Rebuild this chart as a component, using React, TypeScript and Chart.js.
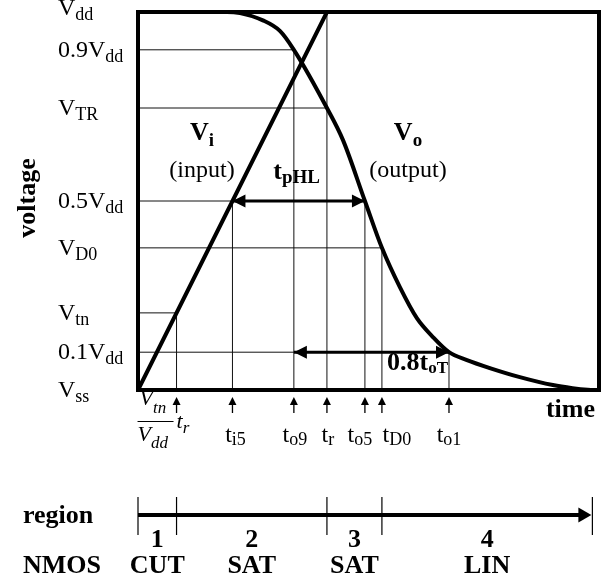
import React, { useEffect, useRef } from 'react';
import { Chart, registerables } from 'chart.js';

Chart.register(...registerables);

// ---------- data ----------
const T_MAX = 2.44;

const levelNames = ['V|dd', '0.9V|dd', 'V|TR', '0.5V|dd', 'V|D0', 'V|tn', '0.1V|dd', 'V|ss'];
const levelValues = [1, 0.9, 0.746, 0.5, 0.376, 0.204, 0.1, 0];

const inputTimes = [0, 1.0, 2.44];
const inputValues = [0, 1, 1];

const outputTimes = [0, 0.47, 0.54, 0.661, 0.751, 0.825, 1.0, 1.085, 1.201, 1.291, 1.386, 1.476, 1.561, 1.646, 1.741, 1.862, 2.021, 2.196, 2.3, 2.38, 2.44];
const outputValues = [1, 1, 0.997, 0.978, 0.95, 0.9, 0.746, 0.661, 0.5, 0.376, 0.272, 0.19, 0.14, 0.1, 0.079, 0.058, 0.034, 0.013, 0.005, 0.001, 0];

const hGuideLevels = [0.9, 0.746, 0.5, 0.376, 0.204, 0.1];
const hGuideEnds = [0.825, 1.0, 1.201, 1.291, 0.204, 1.646];

const markerNames = ['', 't|i5', 't|o9', 't|r', 't|o5', 't|D0', 't|o1'];
const markerTimes = [0.204, 0.5, 0.825, 1.0, 1.201, 1.291, 1.646];
const markerTops = [0.204, 0.5, 0.9, 1.0, 0.5, 0.376, 0.1];

const delayNames = ['t|pHL', '0.8t|oT'];
const delayStarts = [0.5, 0.825];
const delayEnds = [1.201, 1.646];
const delayLevels = [0.5, 0.1];

const regionBounds = [0, 0.204, 1.0, 1.291, 2.405];
const regionNumbers = ['1', '2', '3', '4'];
const nmosModes = ['CUT', 'SAT', 'SAT', 'LIN'];

// ---------- helpers ----------
const FAMILY = "'Liberation Serif', 'Times New Roman', Times, serif";
const font = (size: number, bold = false, italic = false) =>
  `${italic ? 'italic ' : ''}${bold ? 'bold ' : ''}${size}px ${FAMILY}`;

function drawSub(
  ctx: CanvasRenderingContext2D,
  text: string,
  x: number,
  y: number,
  size: number,
  subSize: number,
  drop: number,
  bold: boolean,
  align: 'left' | 'center' | 'right',
  italic = false
) {
  const [main, sub = ''] = text.split('|');
  ctx.font = font(size, bold, italic);
  const mw = ctx.measureText(main).width;
  ctx.font = font(subSize, bold, italic);
  const sw = ctx.measureText(sub).width;
  const w = mw + sw;
  const sx = align === 'left' ? x : align === 'center' ? x - w / 2 : x - w;
  ctx.textAlign = 'left';
  ctx.textBaseline = 'alphabetic';
  ctx.font = font(size, bold, italic);
  ctx.fillText(main, sx, y);
  ctx.font = font(subSize, bold, italic);
  ctx.fillText(sub, sx + mw, y + drop);
}

function hArrowHead(ctx: CanvasRenderingContext2D, tipX: number, y: number, dir: number) {
  ctx.beginPath();
  ctx.moveTo(tipX, y);
  ctx.lineTo(tipX - dir * 13, y - 6.5);
  ctx.lineTo(tipX - dir * 13, y + 6.5);
  ctx.closePath();
  ctx.fill();
}

const annotations = {
  id: 'annotations',
  afterDatasetsDraw(chart: any) {
    const ctx: CanvasRenderingContext2D = chart.ctx;
    const xs = chart.scales.x;
    const ys = chart.scales.y;
    const area = chart.chartArea;
    ctx.save();
    ctx.fillStyle = '#000';
    ctx.strokeStyle = '#000';

    // frame
    ctx.lineWidth = 4;
    ctx.strokeRect(area.left, area.top, area.right - area.left, area.bottom - area.top);

    // delay arrow heads + labels
    delayNames.forEach((name, i) => {
      const y = ys.getPixelForValue(delayLevels[i]);
      const x1 = xs.getPixelForValue(delayStarts[i]);
      const x2 = xs.getPixelForValue(delayEnds[i]);
      hArrowHead(ctx, x1, y, -1);
      hArrowHead(ctx, x2, y, 1);
      if (i === 0) drawSub(ctx, name, (x1 + x2) / 2 - 2, y - 22, 26, 19, 4, true, 'center');
      else drawSub(ctx, name, x2 - 1, y + 18, 26, 17, 3, true, 'right');
    });

    // curve labels
    drawSub(ctx, 'V|i', 202, 140, 26, 19, 6, true, 'center');
    drawSub(ctx, 'V|o', 408, 140, 26, 19, 6, true, 'center');
    ctx.font = font(24);
    ctx.textAlign = 'center';
    ctx.fillText('(input)', 202, 177);
    ctx.fillText('(output)', 408, 177);

    // level labels
    levelNames.forEach((name, i) => {
      const py = ys.getPixelForValue(levelValues[i]);
      const off = i === 0 ? 3 : 7;
      drawSub(ctx, name, 58, py + off, 24, 18, 5, false, 'left');
    });

    // y axis title
    ctx.save();
    ctx.translate(35, 198);
    ctx.rotate(-Math.PI / 2);
    ctx.font = font(26, true);
    ctx.textAlign = 'center';
    ctx.textBaseline = 'alphabetic';
    ctx.fillText('voltage', 0, 0);
    ctx.restore();

    // time title
    ctx.font = font(26, true);
    ctx.textAlign = 'right';
    ctx.textBaseline = 'alphabetic';
    ctx.fillText('time', 595, area.bottom + 27);

    // markers under axis
    const nudges = [0, 3, 1, 1, -5, 15, 0];
    markerTimes.forEach((t, i) => {
      const px = xs.getPixelForValue(t);
      const b = area.bottom;
      ctx.lineWidth = 1.3;
      ctx.beginPath();
      ctx.moveTo(px, b + 23);
      ctx.lineTo(px, b + 12);
      ctx.stroke();
      ctx.beginPath();
      ctx.moveTo(px, b + 7);
      ctx.lineTo(px - 4, b + 15);
      ctx.lineTo(px + 4, b + 15);
      ctx.closePath();
      ctx.fill();
      if (markerNames[i]) {
        drawSub(ctx, markerNames[i], px + nudges[i], b + 52, 24, 18, 3, false, 'center');
      } else {
        // (Vtn / Vdd) * tr
        const fx = px - 39;
        drawSub(ctx, 'V|tn', fx + 2, b + 15, 22, 17, 8, false, 'left', true);
        ctx.lineWidth = 1;
        ctx.beginPath();
        ctx.moveTo(fx, b + 31.5);
        ctx.lineTo(fx + 36, b + 31.5);
        ctx.stroke();
        drawSub(ctx, 'V|dd', fx, b + 51, 22, 17, 7, false, 'left', true);
        drawSub(ctx, 't|r', px, b + 38, 22, 17, 5, false, 'left', true);
      }
    });

    // region axis
    const ry = 515;
    const rx0 = xs.getPixelForValue(regionBounds[0]);
    const rx1 = xs.getPixelForValue(regionBounds[regionBounds.length - 1]);
    ctx.lineWidth = 4;
    ctx.beginPath();
    ctx.moveTo(rx0, ry);
    ctx.lineTo(rx1 - 10, ry);
    ctx.stroke();
    ctx.beginPath();
    ctx.moveTo(rx1 - 1, ry);
    ctx.lineTo(rx1 - 14, ry - 7.5);
    ctx.lineTo(rx1 - 14, ry + 7.5);
    ctx.closePath();
    ctx.fill();
    ctx.lineWidth = 1.2;
    regionBounds.forEach((t) => {
      const px = xs.getPixelForValue(t);
      ctx.beginPath();
      ctx.moveTo(px, ry - 18);
      ctx.lineTo(px, ry + 20);
      ctx.stroke();
    });
    ctx.font = font(26, true);
    ctx.textAlign = 'center';
    regionNumbers.forEach((n, i) => {
      const cx = (xs.getPixelForValue(regionBounds[i]) + xs.getPixelForValue(regionBounds[i + 1])) / 2;
      ctx.fillText(n, cx, ry + 32);
      ctx.fillText(nmosModes[i], cx, ry + 58);
    });
    ctx.textAlign = 'left';
    ctx.fillText('region', 23, ry + 8);
    ctx.fillText('NMOS', 23, ry + 58);

    ctx.restore();
  },
};

export default function App() {
  const ref = useRef<HTMLCanvasElement>(null);
  useEffect(() => {
    if (!ref.current) return;
    const guidePts: any[] = [];
    hGuideLevels.forEach((lv, i) => {
      guidePts.push({ x: 0, y: lv }, { x: hGuideEnds[i], y: lv }, { x: hGuideEnds[i], y: null });
    });
    markerTimes.forEach((t, i) => {
      guidePts.push({ x: t, y: 0 }, { x: t, y: markerTops[i] }, { x: t, y: null });
    });
    const delayPts: any[] = [];
    delayNames.forEach((_, i) => {
      delayPts.push(
        { x: delayStarts[i], y: delayLevels[i] },
        { x: delayEnds[i], y: delayLevels[i] },
        { x: delayEnds[i], y: null }
      );
    });
    const chart = new Chart(ref.current, {
      type: 'line',
      data: {
        datasets: [
          {
            label: 'Vi (input)',
            data: inputTimes.map((t, i) => ({ x: t, y: inputValues[i] })),
            borderColor: '#000',
            borderWidth: 4,
            pointRadius: 0,
            tension: 0,
            clip: false,
          },
          {
            label: 'Vo (output)',
            data: outputTimes.map((t, i) => ({ x: t, y: outputValues[i] })),
            borderColor: '#000',
            borderWidth: 4,
            pointRadius: 0,
            cubicInterpolationMode: 'monotone',
            clip: false,
          },
          {
            label: 'delays',
            data: delayPts,
            borderColor: '#000',
            borderWidth: 3,
            pointRadius: 0,
            spanGaps: false,
            tension: 0,
          },
          {
            label: 'guides',
            data: guidePts,
            borderColor: '#111',
            borderWidth: 1,
            pointRadius: 0,
            spanGaps: false,
            tension: 0,
          },
        ] as any,
      },
      options: {
        animation: false,
        responsive: false,
        devicePixelRatio: 1,
        layout: { padding: { left: 138, top: 12, right: 11, bottom: 195 } },
        plugins: { legend: { display: false }, tooltip: { enabled: false } },
        events: [],
        scales: {
          x: { type: 'linear', min: 0, max: T_MAX, display: false },
          y: { type: 'linear', min: 0, max: 1, display: false },
        },
      },
      plugins: [annotations],
    });
    return () => chart.destroy();
  }, []);
  return (
    <div style={{ position: 'absolute', left: 0, top: 0, width: 610, height: 585, background: '#fff' }}>
      <canvas ref={ref} width={610} height={585} />
    </div>
  );
}
